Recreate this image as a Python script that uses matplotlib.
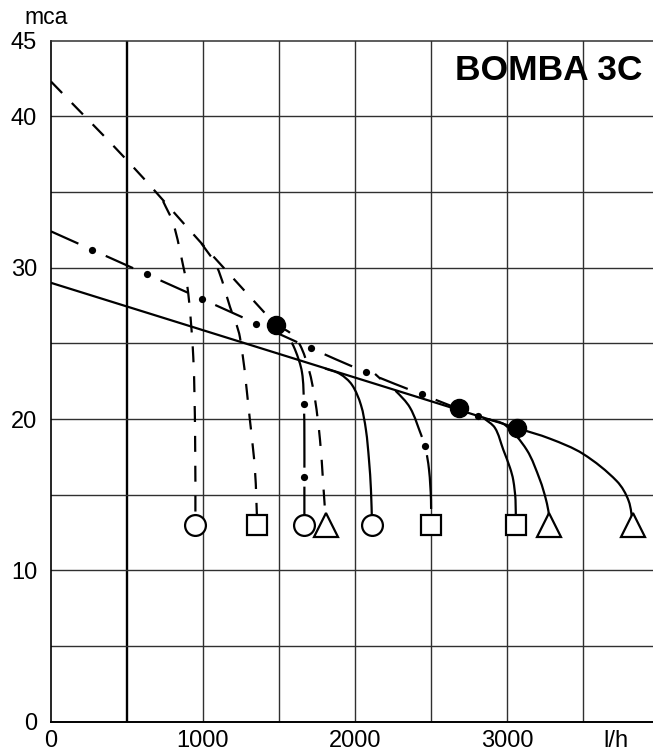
import numpy as np
import matplotlib
matplotlib.use("Agg")
import matplotlib.pyplot as plt
from matplotlib.path import Path
from matplotlib.patches import PathPatch

plt.rcParams['font.family'] = ['Liberation Sans', 'DejaVu Sans']
plt.rcParams['lines.scale_dashes'] = False

# ---------------- data (l/h, mca) ----------------
x_ticks = [0, 1000, 2000, 3000]
x_tick_labels = ['0', '1000', '2000', '3000']
y_ticks = [0, 10, 20, 30, 40, 45]
x_unit_pos = 3717
x_unit = 'l/h'
y_unit = 'mca'
title = 'BOMBA 3C'

# dashed family
dash_main_x = [0, 500, 1000, 1480]
dash_main_y = [42.3, 37.1, 31.5, 26.2]
dash_b1_x = [737, 805, 870, 903, 936, 948, 950]
dash_b1_y = [34.4, 32.9, 30.1, 28.3, 24.1, 19.0, 13.0]
dash_b2_x = [990, 1090, 1178, 1243, 1309, 1342, 1357]
dash_b2_y = [31.6, 30.1, 27.4, 25.4, 19.9, 16.6, 13.0]
dash_b4_x = [1480, 1572, 1638, 1697, 1737, 1770, 1789, 1809]
dash_b4_y = [26.2, 25.7, 24.9, 23.25, 21.3, 18.6, 16.0, 13.0]

# dash-dot family
dd_main_x = [0, 1000, 2000, 2700, 2850]
dd_main_y = [32.4, 27.9, 23.4, 20.6, 20.0]
dd_b3_x = [1553, 1605, 1651, 1664, 1667, 1667, 1667]
dd_b3_y = [25.6, 24.6, 23.1, 21.0, 18.6, 16.2, 13.0]
dd_b6_x = [2132, 2197, 2263, 2362, 2439, 2461, 2487, 2500, 2500]
dd_b6_y = [22.98, 22.4, 21.9, 20.75, 18.85, 18.25, 16.65, 14.65, 13.0]

# solid family
sol_main_x = [0, 1000, 2000, 3066, 3283, 3500, 3722, 3800, 3829]
sol_main_y = [29.0, 25.87, 22.74, 19.4, 18.7, 17.7, 15.9, 14.6, 13.0]
sol_b5_x = [1803, 1901, 1980, 2039, 2072, 2092, 2105, 2112]
sol_b5_y = [23.34, 22.98, 22.26, 20.93, 19.28, 17.3, 15.32, 13.0]
sol_b7_x = [2842, 2921, 2976, 3020, 3041, 3056, 3057]
sol_b7_y = [20.1, 19.41, 17.96, 16.77, 15.97, 14.65, 13.0]
sol_b8_x = [2875, 2987, 3130, 3217, 3257, 3276, 3276]
sol_b8_y = [20.0, 19.61, 17.96, 15.97, 14.65, 13.66, 13.0]

# big operating points
big_x = [1480, 2684, 3066]
big_y = [26.2, 20.7, 19.4]

# end markers
circle_x = [945, 1667, 2112]
square_x = [1357, 2500, 3057]
triangle_x = [1809, 3276, 3829]
marker_y = 13.0

# ---------------- figure ----------------
W, H = 653, 756
fig = plt.figure(figsize=(W / 100, H / 100), dpi=100)
L, B, T = 51, 721.7, 40.7
XS = 0.152          # px per l/h
YS = (B - T) / 45   # px per mca
ax = fig.add_axes([L / W, (H - B) / H, (W - L) / W, (B - T) / H])
ax.set_xlim(0, (W - L) / XS)
ax.set_ylim(0, 45)

grid_c = '#303030'
for gx in range(500, 4000, 500):
    ax.axvline(gx, color='k' if gx == 500 else grid_c,
               lw=1.7 if gx == 500 else 1.0, zorder=1)
for gy in range(5, 45, 5):
    ax.axhline(gy, color=grid_c, lw=1.0, zorder=1)

ax.spines['right'].set_visible(False)
ax.spines['top'].set_color(grid_c)
ax.spines['top'].set_linewidth(1.1)
ax.spines['left'].set_linewidth(1.2)
ax.spines['bottom'].set_linewidth(1.4)

ax.set_xticks(x_ticks + [x_unit_pos], x_tick_labels + [x_unit])
ax.set_yticks(y_ticks, [str(v) for v in y_ticks])
ax.tick_params(axis='both', length=0, labelsize=17)
ax.tick_params(axis='x', pad=6)
ax.tick_params(axis='y', pad=10)

fig.text(46 / W, 1 - 18 / H, y_unit, fontsize=16.5, ha='center', va='center')
ax.text(0.982, 0.942, title, transform=ax.transAxes, ha='right',
        va='baseline', fontsize=25.5, fontweight='bold')

LW = 1.6
PX2PT = 0.72


def smooth_path(xs, ys):
    P = np.column_stack([np.asarray(xs, float) * XS, np.asarray(ys, float) * YS])
    n = len(P)
    d = np.hypot(*np.diff(P, axis=0).T)
    Tn = np.zeros_like(P)
    Tn[0] = (P[1] - P[0]) / d[0]
    Tn[-1] = (P[-1] - P[-2]) / d[-1]
    for i in range(1, n - 1):
        Tn[i] = (P[i + 1] - P[i - 1]) / (d[i - 1] + d[i])
    verts = [P[0]]
    codes = [Path.MOVETO]
    for i in range(n - 1):
        c1 = P[i] + Tn[i] * d[i] / 3.0
        c2 = P[i + 1] - Tn[i + 1] * d[i] / 3.0
        verts += [c1, c2, P[i + 1]]
        codes += [Path.CURVE4] * 3
    V = np.array(verts)
    V[:, 0] /= XS
    V[:, 1] /= YS
    return Path(V, codes)


def draw(xs, ys, style, d0=45.0, on=30.0, off=30.0, min_dot=25.0):
    path = smooth_path(xs, ys)
    if style == 'solid':
        ls = '-'
    elif style == 'dashed':
        ls = (0, (11.5, 10.0))
    else:
        per = on + off
        o = (-(d0 + off / 2.0)) % per
        ls = (o * PX2PT, (on * PX2PT, off * PX2PT))
    ax.add_patch(PathPatch(path, fill=False, lw=LW, ls=ls, color='k',
                           capstyle='butt', joinstyle='round', zorder=3))
    if style == 'dashdot':
        poly = path.to_polygons(transform=ax.transData, closed_only=False)[0]
        seg = np.hypot(*np.diff(poly, axis=0).T)
        cum = np.concatenate([[0], np.cumsum(seg)])
        per = on + off
        t = d0 + per * np.arange(-5, 60)
        t = t[(t >= min_dot) & (t <= cum[-1] - 5)]
        px = np.interp(t, cum, poly[:, 0])
        py = np.interp(t, cum, poly[:, 1])
        dd = ax.transData.inverted().transform(np.column_stack([px, py]))
        ax.plot(dd[:, 0], dd[:, 1], 'o', ms=5.2, color='k', mew=0, zorder=4)


draw(dash_main_x, dash_main_y, 'dashed')
draw(dash_b1_x, dash_b1_y, 'dashed')
draw(dash_b2_x, dash_b2_y, 'dashed')
draw(dash_b4_x, dash_b4_y, 'dashed')
draw(dd_main_x, dd_main_y, 'dashdot', d0=45, on=30, off=30, min_dot=0)
draw(dd_b3_x, dd_b3_y, 'dashdot', d0=73, on=54, off=19)
draw(dd_b6_x, dd_b6_y, 'dashdot', d0=90, on=54, off=19)
draw(sol_main_x, sol_main_y, 'solid')
draw(sol_b5_x, sol_b5_y, 'solid')
draw(sol_b7_x, sol_b7_y, 'solid')
draw(sol_b8_x, sol_b8_y, 'solid')

ax.plot(big_x, big_y, 'o', ms=13, color='k', zorder=6, clip_on=False)
mk = dict(mfc='white', mec='k', mew=1.6, ls='none', zorder=7)
ax.plot(circle_x, [marker_y] * len(circle_x), 'o', ms=15, **mk)
ax.plot(square_x, [marker_y] * len(square_x), 's', ms=14.5, **mk)
ax.plot(triangle_x, [marker_y] * len(triangle_x), '^', ms=17, **mk)

fig.savefig('out.png', dpi=100)
